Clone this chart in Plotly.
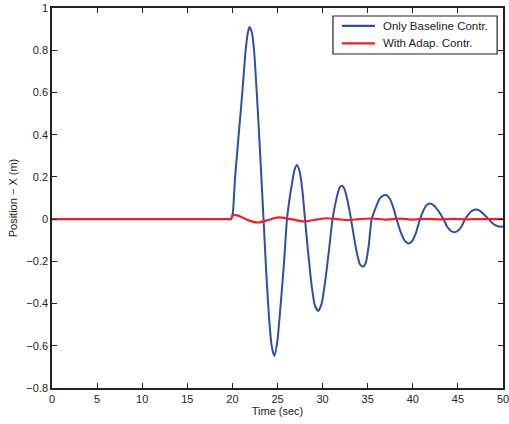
import plotly.graph_objects as go

# Blue: only baseline controller (key points)
t_base = [0, 5, 10, 15, 19.0, 19.5, 19.85, 20.05, 20.15, 20.3, 20.7, 21.1, 21.47, 21.7, 21.9,
          22.15, 22.4, 22.9, 23.45,
          23.75, 24.05, 24.35, 24.65, 24.98, 25.3, 25.7, 26.05,
          26.35, 26.65, 26.9, 27.16, 27.45, 27.75, 28.05,
          28.4, 28.8, 29.15, 29.52, 29.9, 30.3, 30.7, 31.1,
          31.4, 31.7, 31.9, 32.15, 32.45, 32.8, 33.15,
          33.5, 33.85, 34.15, 34.5, 34.8, 35.1, 35.44,
          35.85, 36.3, 36.65, 37.03, 37.4, 37.8, 38.2,
          38.6, 39.0, 39.3, 39.58, 39.9, 40.35, 40.8,
          41.15, 41.5, 41.9, 42.3, 42.85, 43.4,
          43.8, 44.2, 44.6, 45.0, 45.4, 45.8,
          46.2, 46.6, 47.0, 47.4, 47.9, 48.4,
          48.8, 49.2, 49.7, 50.0]
x_base = [0, 0, 0, 0, 0, 0, 0, 0.03, 0.09, 0.2, 0.4, 0.6, 0.8, 0.88, 0.91,
          0.885, 0.8, 0.45, 0.0,
          -0.25, -0.46, -0.6, -0.648, -0.58, -0.43, -0.22, 0.0,
          0.1, 0.18, 0.235, 0.256, 0.225, 0.14, 0.0,
          -0.16, -0.32, -0.41, -0.435, -0.4, -0.29, -0.15, 0.0,
          0.07, 0.125, 0.15, 0.158, 0.14, 0.08, 0.0,
          -0.09, -0.17, -0.215, -0.226, -0.205, -0.13, 0.0,
          0.05, 0.095, 0.11, 0.114, 0.1, 0.06, 0.0,
          -0.055, -0.095, -0.11, -0.115, -0.105, -0.065, 0.0,
          0.038, 0.065, 0.074, 0.066, 0.038, 0.0,
          -0.035, -0.055, -0.062, -0.055, -0.035, 0.0,
          0.024, 0.04, 0.045, 0.04, 0.022, 0.0,
          -0.018, -0.03, -0.036, -0.035]

# Red: with adaptive controller
t_adap = [0, 5, 10, 15, 19.0, 19.5, 19.8, 20.1, 20.5, 21.0, 21.8, 22.9, 24.0, 25.1,
          26.5, 27.9, 29.2, 30.45, 31.6, 32.7, 34.0, 35.5, 37.0, 38.5, 40.0,
          41.5, 43.0, 44.5, 46.0, 47.5, 49.0, 50.0]
x_adap = [0, 0, 0, 0, 0, 0, 0, 0.02, 0.018, 0.01, -0.006, -0.016, -0.004, 0.008,
          0.0, -0.011, -0.003, 0.004, 0.0, -0.005, 0.0, 0.003, -0.002, 0.002, -0.002,
          0.001, -0.001, 0.001, -0.001, 0.0, 0.0, 0.0]

series_names = ["Only Baseline Contr.", "With Adap. Contr."]
series_colors = ["#2f4fa6", "#ee2024"]

x_ticks = [0, 5, 10, 15, 20, 25, 30, 35, 40, 45, 50]
y_ticks = [-0.8, -0.6, -0.4, -0.2, 0, 0.2, 0.4, 0.6, 0.8, 1]
y_tick_text = ["\u22120.8", "\u22120.6", "\u22120.4", "\u22120.2", "0",
               "0.2", "0.4", "0.6", "0.8", "1"]

FONT = "Liberation Sans, Arial"
INK = "#222222"

fig = go.Figure()
fig.add_trace(go.Scatter(x=t_base, y=x_base, mode="lines", name=series_names[0],
                         line=dict(color=series_colors[0], width=2, shape="spline", smoothing=0.6)))
fig.add_trace(go.Scatter(x=t_adap, y=x_adap, mode="lines", name=series_names[1],
                         line=dict(color=series_colors[1], width=2.2, shape="spline", smoothing=0.6)))

axis_common = dict(showline=True, linecolor=INK, linewidth=1.5, mirror="ticks",
                   ticks="inside", ticklen=5, tickcolor=INK, showgrid=False,
                   zeroline=False, automargin=False, ticklabeloverflow="allow",
                   tickfont=dict(family=FONT, size=11, color=INK))

fig.update_xaxes(range=[0, 50], tickvals=x_ticks, **axis_common,
                 title=dict(text="Time (sec)", standoff=0,
                            font=dict(family=FONT, size=11, color=INK)))
fig.update_yaxes(range=[-0.8, 1], tickvals=y_ticks, ticktext=y_tick_text, **axis_common,
                 title=dict(text="Position \u2212 X (m)", standoff=6,
                            font=dict(family=FONT, size=11, color=INK)))

# MATLAB-style legend box drawn in paper coordinates
box_x0, box_x1, box_y0, box_y1 = 0.623, 0.987, 0.879, 0.979
row_y = [0.953, 0.907]
shapes = [dict(type="rect", xref="paper", yref="paper", x0=box_x0, x1=box_x1,
               y0=box_y0, y1=box_y1, line=dict(color=INK, width=1.2), fillcolor="white",
               layer="above")]
annotations = []
for name, color, ry in zip(series_names, series_colors, row_y):
    shapes.append(dict(type="line", xref="paper", yref="paper", x0=0.643, x1=0.716,
                       y0=ry, y1=ry, line=dict(color=color, width=2.2), layer="above"))
    annotations.append(dict(xref="paper", yref="paper", x=0.730, y=ry, text=name,
                            showarrow=False, xanchor="left", yanchor="middle",
                            font=dict(family=FONT, size=11.5, color=INK)))

fig.update_layout(
    width=509, height=424,
    margin=dict(l=52, r=6, t=8, b=36),
    paper_bgcolor="white", plot_bgcolor="white",
    showlegend=False,
    shapes=shapes, annotations=annotations,
)

fig.write_html("out.html", config={"displayModeBar": False},
               post_script="document.body.style.margin='0';document.body.style.padding='0';")
